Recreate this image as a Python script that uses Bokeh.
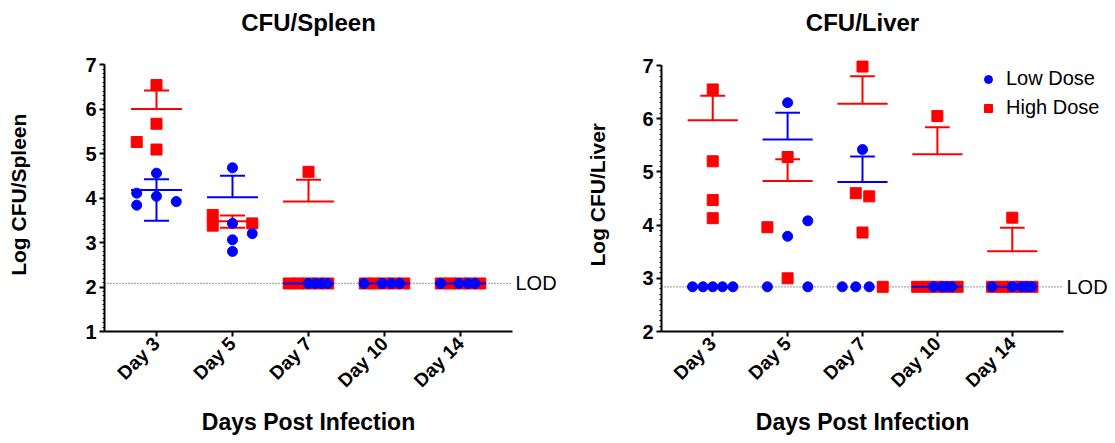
import numpy as np
from math import pi
from bokeh.plotting import figure
from bokeh.layouts import row
from bokeh.models import Label, FixedTicker, Legend, LegendItem, Title
from bokeh.embed import file_html
from bokeh.resources import INLINE

days = ["Day 3", "Day 5", "Day 7", "Day 10", "Day 14"]

# ---------------- CFU / Spleen ----------------
spleen_lod = 2.08
spleen_low_day = [0, 0, 0, 0, 0, 1, 1, 1, 1, 1, 2, 2, 2, 2, 3, 3, 3, 3, 4, 4, 4, 4]
spleen_low_val = [4.56, 4.11, 4.04, 3.92, 3.84, 4.68, 3.43, 3.20, 3.06, 2.80,
                  2.08, 2.08, 2.08, 2.08, 2.08, 2.08, 2.08, 2.08, 2.08, 2.08, 2.08, 2.08]
spleen_low_jit = [0, -0.26, 0, 0.26, -0.26, 0, 0, 0.26, 0, 0,
                  0, 0.09, 0.17, 0.25, -0.27, -0.03, 0.09, 0.2, -0.26, -0.02, 0.1, 0.19]
spleen_high_day = [0, 0, 0, 0, 1, 1, 1, 2, 2, 2, 2, 2, 2, 3, 3, 3, 3, 3, 4, 4, 4, 4, 4]
spleen_high_val = [6.54, 5.67, 5.26, 5.09, 3.62, 3.38, 3.43, 4.59,
                   2.08, 2.08, 2.08, 2.08, 2.08, 2.08, 2.08, 2.08, 2.08, 2.08, 2.08, 2.08, 2.08, 2.08, 2.08]
spleen_high_jit = [0, 0, -0.26, 0, -0.26, -0.26, 0.26, 0,
                   -0.26, -0.13, 0, 0.13, 0.26, -0.26, -0.13, 0, 0.13, 0.26, -0.26, -0.13, 0, 0.13, 0.26]
spleen_low_mean = [4.18, 4.02, 2.08, 2.08, 2.08]
spleen_low_upper = [4.42, 4.50, 2.08, 2.08, 2.08]
spleen_low_lower = [3.49, 4.02, 2.08, 2.08, 2.08]
spleen_high_mean = [6.00, 3.48, 3.92, 2.08, 2.08]
spleen_high_upper = [6.42, 3.61, 4.41, 2.08, 2.08]
spleen_high_lower = [6.00, 3.33, 3.92, 2.08, 2.08]

# ---------------- CFU / Liver ----------------
liver_lod = 2.84
liver_low_day = [0, 0, 0, 0, 0, 1, 1, 1, 1, 1, 2, 2, 2, 2, 3, 3, 3, 3, 4, 4, 4, 4, 4]
liver_low_val = [2.84, 2.84, 2.84, 2.84, 2.84, 6.30, 4.08, 3.79, 2.84, 2.84,
                 5.42, 2.84, 2.84, 2.84, 2.84, 2.84, 2.84, 2.84, 2.84, 2.84, 2.84, 2.84, 2.84]
liver_low_jit = [-0.27, -0.13, 0, 0.13, 0.27, 0, 0.27, 0, -0.27, 0.27,
                 0, -0.27, -0.09, 0.09, -0.05, 0.06, 0.125, 0.19, -0.27, 0, 0.125, 0.19, 0.26]
liver_high_day = [0, 0, 0, 0, 1, 1, 1, 2, 2, 2, 2, 2, 3, 3, 3, 3, 3, 3, 4, 4, 4, 4, 4, 4]
liver_high_val = [6.55, 5.20, 4.47, 4.13, 5.28, 3.96, 3.00, 6.98, 4.60, 4.54, 3.86, 2.84,
                  6.05, 2.84, 2.84, 2.84, 2.84, 2.84, 4.14, 2.84, 2.84, 2.84, 2.84, 2.84]
liver_high_jit = [0, 0, 0, 0, 0, -0.27, 0, 0, -0.09, 0.09, 0, 0.27,
                  0, -0.27, -0.13, 0, 0.13, 0.27, 0, -0.27, -0.13, 0, 0.13, 0.27]
liver_low_mean = [2.84, 5.61, 4.81, 2.84, 2.84]
liver_low_upper = [2.84, 6.11, 5.29, 2.84, 2.84]
liver_low_lower = [2.84, 5.61, 4.81, 2.84, 2.84]
liver_high_mean = [5.97, 4.83, 6.28, 5.33, 3.51]
liver_high_upper = [6.43, 5.24, 6.80, 5.84, 3.95]
liver_high_lower = [5.97, 4.83, 6.28, 5.33, 3.51]

BLUE = "#0000FF"
RED = "#FF0000"
FONT = "Liberation Sans"
MEAN_HW = 0.335
CAP_HW = 0.165
XMIN, XMAX = -0.684, 4.684
H = 443
FRAME_TOP = 5   # frame extends above the axis so titles / labels are not clipped
NBSP = "\u00a0"

# approximate bold Arial/Liberation advance widths (em) used to centre the axis titles
_BW = {"D": .722, "a": .556, "y": .556, "s": .556, " ": .278, "P": .667, "o": .611, "t": .333,
       "I": .278, "n": .611, "f": .333, "e": .556, "c": .556, "i": .278, "L": .611, "g": .611,
       "C": .722, "F": .611, "U": .722, "/": .278, "S": .667, "p": .611, "l": .278, "v": .556,
       "r": .389}


def text_width(s, size):
    return sum(_BW.get(ch, .6) for ch in s) * size


def draw_stats(p, mean, upper, lower, color):
    idx = np.arange(len(mean))
    mean = np.array(mean); upper = np.array(upper); lower = np.array(lower)
    p.segment(idx - MEAN_HW, mean, idx + MEAN_HW, mean, line_color=color, line_width=2)
    up = upper > mean
    if up.any():
        p.segment(idx[up], mean[up], idx[up], upper[up], line_color=color, line_width=2)
        p.segment(idx[up] - CAP_HW, upper[up], idx[up] + CAP_HW, upper[up], line_color=color, line_width=2)
    lo = lower < mean
    if lo.any():
        p.segment(idx[lo], mean[lo], idx[lo], lower[lo], line_color=color, line_width=2)
        p.segment(idx[lo] - CAP_HW, lower[lo], idx[lo] + CAP_HW, lower[lo], line_color=color, line_width=2)


def make_panel(title, ylabel, ymin, lod, width, ax_left, ax_right, ax_top, ax_bottom,
               ytitle_standoff, ytitle_cy,
               low_day, low_val, low_jit, high_day, high_val, high_jit,
               low_mean, low_up, low_lo, high_mean, high_up, high_lo):
    # ax_* are pixel positions (inside this figure) of the axis box
    xppu = (ax_right - ax_left) / (XMAX - XMIN)
    yppu = (ax_bottom - ax_top) / (7 - ymin)
    frame_right = width - 2
    x_end = XMAX + (frame_right - ax_right) / xppu
    y_end = 7 + (ax_top - FRAME_TOP) / yppu
    p = figure(width=width, height=H, x_range=(XMIN, x_end), y_range=(ymin, y_end),
               output_backend="svg", toolbar_location=None,
               min_border_left=ax_left, min_border_right=width - frame_right,
               min_border_top=FRAME_TOP, min_border_bottom=H - ax_bottom)
    p.outline_line_color = None
    p.grid.visible = False
    p.background_fill_color = "white"

    # axes
    p.xaxis.bounds = (XMIN, XMAX)
    p.yaxis.bounds = (ymin, 7)
    p.xaxis.ticker = FixedTicker(ticks=list(range(len(days))))
    p.xaxis.major_label_overrides = {i: d for i, d in enumerate(days)}
    p.xaxis.major_label_orientation = pi / 4
    p.xaxis.minor_tick_line_color = None
    p.yaxis.ticker = FixedTicker(ticks=list(range(ymin, 8)),
                                 minor_ticks=list(np.round(np.arange(ymin, 7.0001, 0.1), 2)))
    for ax in (p.xaxis, p.yaxis):
        ax.axis_line_width = 2
        ax.axis_line_color = "black"
        ax.major_tick_line_width = 2
        ax.major_tick_line_color = "black"
        ax.major_tick_out = 5
        ax.major_tick_in = 0
        ax.major_label_text_font = FONT
        ax.major_label_text_font_style = "bold"
        ax.major_label_text_color = "black"
    p.yaxis.minor_tick_out = 2
    p.yaxis.minor_tick_in = 0
    p.yaxis.minor_tick_line_color = "black"
    p.yaxis.minor_tick_line_width = 1
    p.yaxis.major_label_text_font_size = "20px"
    p.xaxis.major_label_text_font_size = "19px"
    p.yaxis.major_label_standoff = 3
    p.xaxis.major_label_standoff = 4

    # x-axis title centred on the axis extent (not on the enlarged frame)
    xt, xs = "Days Post Infection", 23
    x_start = (ax_left + ax_right) / 2 - text_width(xt, xs) / 2
    p.add_layout(Title(text=xt, align="left", offset=x_start - ax_left,
                       text_font=FONT, text_font_size=f"{xs}px", text_font_style="bold",
                       text_color="black"), "below")
    # y-axis title: the frame is taller than the axis, so pad the end with
    # non-breaking spaces to bring the visible text down to the axis centre
    ys = 21
    shift = ytitle_cy - (FRAME_TOP + ax_bottom) / 2
    n_pad = int(round(2 * shift / (0.278 * ys)))
    p.yaxis.axis_label = ylabel + NBSP * n_pad
    p.yaxis.axis_label_text_font = FONT
    p.yaxis.axis_label_text_font_size = f"{ys}px"
    p.yaxis.axis_label_text_font_style = "bold"
    p.yaxis.axis_label_text_color = "black"
    p.yaxis.axis_label_standoff = ytitle_standoff

    # LOD line
    p.segment(x0=[XMIN], y0=[lod], x1=[XMAX], y1=[lod], line_color="#555555",
              line_width=1.2, line_dash="1 2")

    hx = np.array(high_day) + np.array(high_jit)
    lx = np.array(low_day) + np.array(low_jit)
    r_high = p.scatter(hx, high_val, marker="square", size=11, fill_color=RED, line_color=RED)
    draw_stats(p, high_mean, high_up, high_lo, RED)
    r_low = p.scatter(lx, low_val, marker="circle", size=10, fill_color=BLUE, line_color=BLUE)
    draw_stats(p, low_mean, low_up, low_lo, BLUE)

    p.add_layout(Label(x=XMAX, y=lod, x_offset=3, text="LOD", text_font=FONT,
                       text_font_size="20px", text_baseline="middle", text_align="left",
                       text_color="black"))
    # title
    p.add_layout(Label(x=2, y=7 + (ax_top - 22) / yppu, text=title, text_font=FONT,
                       text_font_size="24px", text_font_style="bold", text_align="center",
                       text_baseline="middle", text_color="black"))
    return p, r_low, r_high


p1, _, _ = make_panel("CFU/Spleen", "Log CFU/Spleen", 1, spleen_lod, 560, 104, 512, 65, 336,
                      52, 197,
                      spleen_low_day, spleen_low_val, spleen_low_jit,
                      spleen_high_day, spleen_high_val, spleen_high_jit,
                      spleen_low_mean, spleen_low_upper, spleen_low_lower,
                      spleen_high_mean, spleen_high_upper, spleen_high_lower)

p2, rl, rh = make_panel("CFU/Liver", "Log CFU/Liver", 2, liver_lod, 555, 101, 503, 65, 331,
                        30, 195,
                        liver_low_day, liver_low_val, liver_low_jit,
                        liver_high_day, liver_high_val, liver_high_jit,
                        liver_low_mean, liver_low_upper, liver_low_lower,
                        liver_high_mean, liver_high_upper, liver_high_lower)

legend = Legend(items=[LegendItem(label="Low Dose", renderers=[rl]),
                       LegendItem(label="High Dose", renderers=[rh])],
                location=(317, 212), padding=0, margin=0, spacing=6,
                label_standoff=8, glyph_width=20, glyph_height=20, label_height=20,
                label_text_font=FONT, label_text_font_size="20px", label_text_color="black",
                border_line_color=None, background_fill_alpha=0)
p2.add_layout(legend, "center")

layout = row(p1, p2)
open("out.html", "w").write(file_html(layout, INLINE))
